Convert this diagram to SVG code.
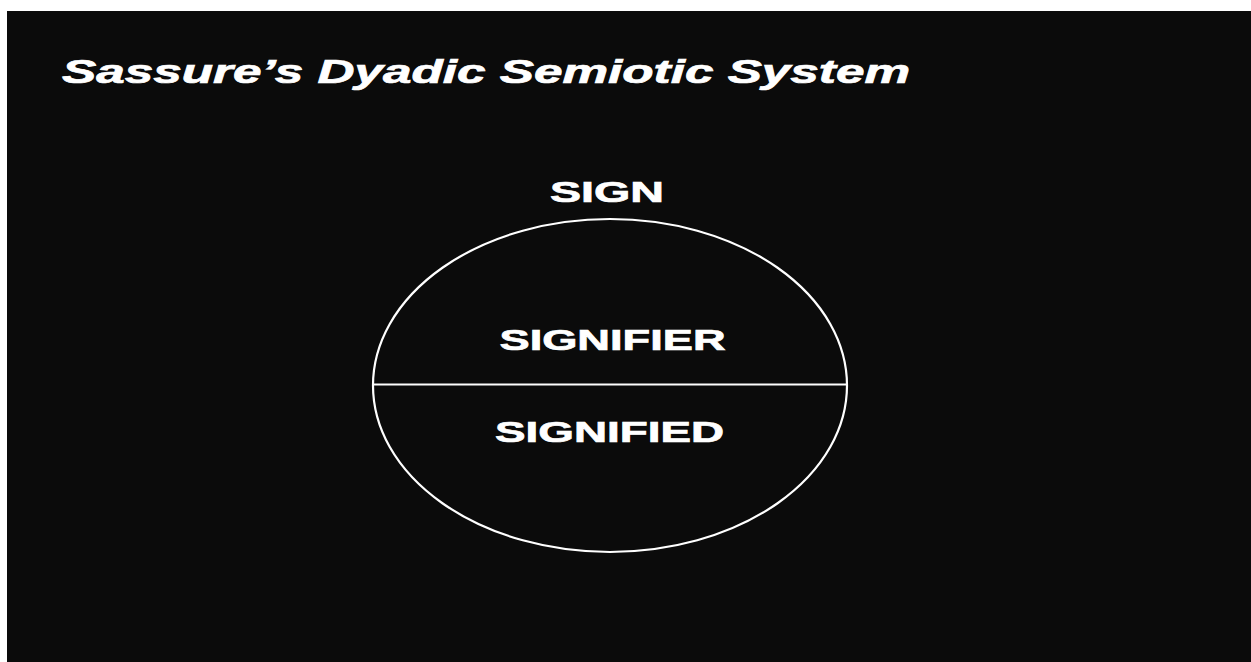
<svg xmlns="http://www.w3.org/2000/svg" width="1251" height="662" viewBox="0 0 1251 662">
<style>
.t{font-family:"Liberation Sans",Arial,sans-serif;font-weight:bold;fill:#fff;stroke:#fff;stroke-width:0.7;}
.ln{fill:none;stroke:#fff;stroke-width:2.2;}
</style>
<rect x="0" y="0" width="1251" height="662" fill="#fff"/>
<rect x="7" y="11" width="1244" height="651" fill="#0b0b0b"/>
<g id="title">
<text class="t" transform="translate(62,82.5) scale(1.4,1)" x="0" y="0" font-size="33" font-style="italic" textLength="605.7" lengthAdjust="spacingAndGlyphs">Sassure’s Dyadic Semiotic System</text>
</g>
<g id="sign">
<text class="t" transform="translate(550,202) scale(1.5,1)" x="0" y="0" font-size="30" textLength="76" lengthAdjust="spacingAndGlyphs">SIGN</text>
<ellipse class="ln" cx="610" cy="385.5" rx="237" ry="166.5"/>
</g>
<g id="connectors">
<line class="ln" x1="373" y1="384.5" x2="847" y2="384.5"/>
</g>
<g id="signifier">
<text class="t" transform="translate(499.5,350) scale(1.5,1)" x="0" y="0" font-size="29" textLength="150.7" lengthAdjust="spacingAndGlyphs">SIGNIFIER</text>
</g>
<g id="signified">
<text class="t" transform="translate(495,442) scale(1.5,1)" x="0" y="0" font-size="30" textLength="152.7" lengthAdjust="spacingAndGlyphs">SIGNIFIED</text>
</g>
</svg>
